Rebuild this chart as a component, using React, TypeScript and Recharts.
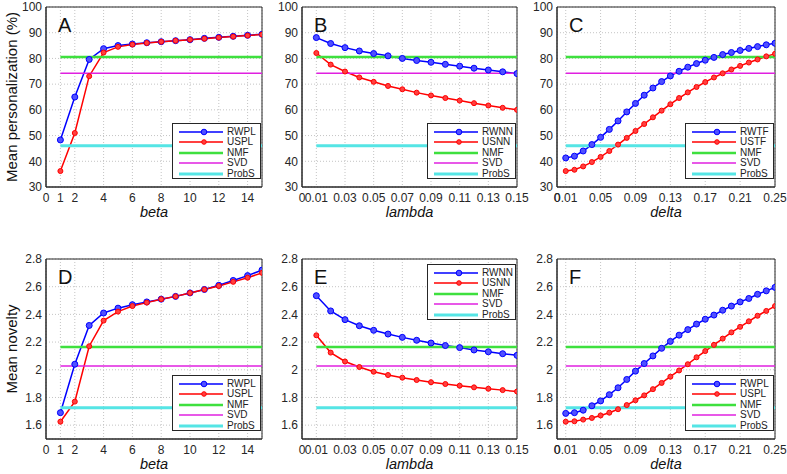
import React from 'react'
import { CartesianGrid, Label, Line, LineChart, ReferenceArea, XAxis, YAxis } from 'recharts'

const FONT = '"Liberation Sans", Arial, Helvetica, sans-serif'

// parameter values (x)
const betaValues = [1, 2, 3, 4, 5, 6, 7, 8, 9, 10, 11, 12, 13, 14, 15]
const lambdaValues = [0.01, 0.02, 0.03, 0.04, 0.05, 0.06, 0.07, 0.08, 0.09, 0.1, 0.11, 0.12, 0.13, 0.14, 0.15]
const deltaValues = [
  0.01, 0.02, 0.03, 0.04, 0.05, 0.06, 0.07, 0.08, 0.09, 0.1, 0.11, 0.12, 0.13,
  0.14, 0.15, 0.16, 0.17, 0.18, 0.19, 0.2, 0.21, 0.22, 0.23, 0.24, 0.25,
]

// tick labels
const betaTicks = [0, 1, 2, 4, 6, 8, 10, 12, 14]
const lambdaTicks = [0, 0.01, 0.03, 0.05, 0.07, 0.09, 0.11, 0.13, 0.15]
const deltaTicks = [0, 0.01, 0.05, 0.09, 0.13, 0.17, 0.21, 0.25]
const personalizationTicks = [30, 40, 50, 60, 70, 80, 90, 100]
const noveltyTicks = [1.6, 1.8, 2, 2.2, 2.4, 2.6, 2.8]

// baselines
const personalizationNMF = 80.6
const personalizationSVD = 74.2
const personalizationProbS = 46.0
const noveltyNMF = 2.165
const noveltySVD = 2.028
const noveltyProbS = 1.726

// A: personalization vs beta
const persRWPL = [48.3, 65.0, 79.6, 83.8, 85.0, 85.6, 86.1, 86.5, 86.9, 87.3, 87.8, 88.2, 88.6, 89.0, 89.4]
const persUSPL = [36.2, 51.0, 73.1, 82.3, 84.5, 85.4, 86.0, 86.5, 86.9, 87.3, 87.7, 88.1, 88.5, 88.9, 89.3]
// B: personalization vs lambda
const persRWNN = [88.1, 85.8, 84.2, 82.9, 81.9, 81.0, 80.0, 79.2, 78.5, 77.7, 77.0, 76.2, 75.5, 74.8, 74.1]
const persUSNN = [82.1, 77.6, 74.9, 72.6, 70.9, 69.3, 68.0, 66.7, 65.6, 64.6, 63.6, 62.6, 61.7, 60.8, 60.0]
// C: personalization vs delta
const persRWTF = [
  41.3, 42.0, 44.0, 46.5, 49.3, 52.4, 55.7, 59.2, 62.5, 65.7, 68.5, 71.0, 73.2,
  75.0, 76.6, 78.0, 79.3, 80.4, 81.5, 82.3, 83.1, 83.9, 84.6, 85.3, 85.9,
]
const persUSTF = [
  36.2, 36.7, 38.0, 39.7, 41.7, 44.0, 46.5, 49.1, 51.8, 54.5, 57.1, 59.7, 62.2,
  64.6, 66.8, 68.9, 70.8, 72.6, 74.2, 75.7, 77.1, 78.4, 79.6, 80.8, 81.8,
]
// D: novelty vs beta
const novRWPL = [1.69, 2.04, 2.32, 2.41, 2.445, 2.47, 2.49, 2.51, 2.53, 2.555, 2.58, 2.61, 2.645, 2.68, 2.72]
const novUSPL = [1.625, 1.77, 2.17, 2.355, 2.42, 2.46, 2.485, 2.51, 2.53, 2.555, 2.58, 2.605, 2.635, 2.665, 2.70]
// E: novelty vs lambda
const novRWNN = [2.535, 2.425, 2.362, 2.318, 2.285, 2.258, 2.234, 2.213, 2.193, 2.175, 2.16, 2.143, 2.13, 2.116, 2.104]
const novUSNN = [2.249, 2.124, 2.06, 2.02, 1.986, 1.962, 1.943, 1.926, 1.91, 1.897, 1.885, 1.873, 1.863, 1.853, 1.843]
// F: novelty vs delta
const novRWPLDelta = [
  1.685, 1.69, 1.708, 1.74, 1.775, 1.82, 1.87, 1.93, 1.99, 2.045, 2.1, 2.155, 2.205,
  2.25, 2.29, 2.33, 2.365, 2.395, 2.43, 2.46, 2.49, 2.515, 2.545, 2.57, 2.595,
]
const novUSPLDelta = [
  1.625, 1.628, 1.64, 1.652, 1.67, 1.69, 1.715, 1.745, 1.78, 1.815, 1.86, 1.905, 1.95,
  1.995, 2.04, 2.09, 2.135, 2.18, 2.225, 2.27, 2.31, 2.35, 2.39, 2.425, 2.46,
]

const BLUE = '#0000ff'
const RED = '#ff0000'
const GREEN = '#3ee03e'
const MAGENTA = '#e020e0'
const CYAN = '#55e5e5'
const AXIS = '#262626'

const buildRows = (xs: number[], a: number[], b: number[], nmf: number, svd: number, probs: number) =>
  xs.map((x, i) => ({ x, a: a[i], b: b[i], nmf, svd, probs }))

const fmt2 = (v: number) => (v === 0 ? '0' : v.toFixed(2))
const fmtInt = (v: number) => String(v)
const fmtNov = (v: number) => String(Number(v.toFixed(1)))

interface PanelProps {
  left: number
  top: number
  width: number
  height: number
  rows: ReturnType<typeof buildRows>
  xDomain: [number, number]
  xTicks: number[]
  xFmt: (v: number) => string
  yDomain: [number, number]
  yTicks: number[]
  yFmt: (v: number) => string
  letter: string
  xLabel: string
  yLabel?: string
  names: [string, string]
  legendTop?: boolean
}

const YW = 46

const LegendBox = ({ names, style }: { names: [string, string]; style: React.CSSProperties }) => {
  const items = [
    { name: names[0], color: BLUE, w: 1.5, marker: 'ring' },
    { name: names[1], color: RED, w: 1.5, marker: 'dot' },
    { name: 'NMF', color: GREEN, w: 2.5, marker: '' },
    { name: 'SVD', color: MAGENTA, w: 1.5, marker: '' },
    { name: 'ProbS', color: CYAN, w: 3, marker: '' },
  ]
  return (
    <div
      style={{
        position: 'absolute',
        width: 89,
        height: 56,
        background: '#fff',
        border: `1px solid ${AXIS}`,
        boxSizing: 'border-box',
        ...style,
      }}
    >
      {items.map((it, i) => (
        <div key={it.name} style={{ position: 'absolute', left: 0, top: 3 + i * 10.4, height: 10, width: 88 }}>
          <svg width={50} height={10} style={{ position: 'absolute', left: 4, top: 0 }}>
            <line x1={2} y1={5} x2={46} y2={5} stroke={it.color} strokeWidth={it.w} />
            {it.marker === 'ring' && <circle cx={27} cy={5} r={2.8} fill="#5050ff" stroke={BLUE} strokeWidth={1} />}
            {it.marker === 'dot' && <circle cx={27} cy={5} r={2.3} fill="#ff4040" stroke={RED} strokeWidth={1} />}
          </svg>
          <span
            style={{
              position: 'absolute',
              left: 54,
              top: 0,
              fontSize: 10,
              lineHeight: '10px',
              color: '#222',
              fontFamily: FONT,
            }}
          >
            {it.name}
          </span>
        </div>
      ))}
    </div>
  )
}

const Panel = (p: PanelProps) => {
  const legendStyle: React.CSSProperties = p.legendTop
    ? { left: p.left + p.width - 90, top: p.top + 5 }
    : { left: p.left + p.width - 90, top: p.top + p.height - 64 }
  return (
    <>
      <div style={{ position: 'absolute', left: p.left - YW, top: p.top - 7 }}>
        <LineChart
          width={YW + p.width + 12}
          height={7 + p.height + 45}
          data={p.rows}
          margin={{ top: 7, right: 12, bottom: 25, left: 0 }}
        >
          <CartesianGrid stroke="#c4c4c4" strokeDasharray="1 2" />
          <XAxis
            dataKey="x"
            type="number"
            domain={p.xDomain}
            ticks={p.xTicks}
            interval={0}
            tickFormatter={p.xFmt}
            tickLine={false}
            tickSize={4}
            tickMargin={2}
            height={20}
            axisLine={{ stroke: AXIS }}
            tick={{ fill: AXIS, fontSize: 12, fontFamily: FONT }}
            allowDataOverflow
          >
            <Label
              value={p.xLabel}
              position="bottom"
              offset={0}
              style={{ fontStyle: 'italic', fontSize: 14.5, fill: '#111', fontFamily: FONT }}
            />
          </XAxis>
          <YAxis
            type="number"
            domain={p.yDomain}
            ticks={p.yTicks}
            interval={0}
            tickFormatter={p.yFmt}
            tickLine={false}
            tickSize={2}
            tickMargin={2}
            width={YW}
            axisLine={{ stroke: AXIS }}
            tick={{ fill: AXIS, fontSize: 12, fontFamily: FONT }}
            allowDataOverflow
          >
            {p.yLabel && (
              <Label
                value={p.yLabel}
                angle={-90}
                position="insideLeft"
                offset={12}
                style={{ textAnchor: 'middle', fontSize: 15, fill: '#111', fontFamily: FONT }}
              />
            )}
          </YAxis>
          <ReferenceArea
            x1={p.xDomain[0]}
            x2={p.xDomain[1]}
            y1={p.yDomain[0]}
            y2={p.yDomain[1]}
            fill="none"
            fillOpacity={0}
            stroke={AXIS}
            strokeWidth={1}
          />
          <Line
            dataKey="a"
            stroke={BLUE}
            strokeWidth={1.5}
            dot={{ r: 3, fill: '#5050ff', stroke: BLUE, strokeWidth: 1 }}
            isAnimationActive={false}
          />
          <Line
            dataKey="b"
            stroke={RED}
            strokeWidth={1.5}
            dot={{ r: 2.5, fill: '#ff4040', stroke: RED, strokeWidth: 1 }}
            isAnimationActive={false}
          />
          <Line dataKey="nmf" stroke={GREEN} strokeWidth={2.5} dot={false} isAnimationActive={false} />
          <Line dataKey="svd" stroke={MAGENTA} strokeWidth={1.5} dot={false} isAnimationActive={false} />
          <Line dataKey="probs" stroke={CYAN} strokeWidth={3} dot={false} isAnimationActive={false} />
        </LineChart>
      </div>
      <div
        style={{
          position: 'absolute',
          left: p.left + 12,
          top: p.top + 6,
          fontSize: 20,
          lineHeight: '24px',
          color: '#111',
          fontFamily: FONT,
        }}
      >
        {p.letter}
      </div>
      <LegendBox names={p.names} style={legendStyle} />
    </>
  )
}

const App = () => {
  const cols = [
    { left: 46, width: 216 },
    { left: 302, width: 215 },
    { left: 557, width: 218 },
  ]
  const rowTops = [7, 259]
  const h = 180
  const persDomain: [number, number] = [30, 100]
  const novDomain: [number, number] = [1.5, 2.8]

  return (
    <div
      style={{
        position: 'absolute',
        left: 0,
        top: 0,
        width: 787,
        height: 474,
        background: '#fff',
        overflow: 'hidden',
        fontFamily: FONT,
      }}
    >
      <Panel
        left={cols[0].left}
        top={rowTops[0]}
        width={cols[0].width}
        height={h}
        rows={buildRows(betaValues, persRWPL, persUSPL, personalizationNMF, personalizationSVD, personalizationProbS)}
        xDomain={[0, 15]}
        xTicks={betaTicks}
        xFmt={fmtInt}
        yDomain={persDomain}
        yTicks={personalizationTicks}
        yFmt={fmtInt}
        letter="A"
        xLabel="beta"
        yLabel="Mean personalization (%)"
        names={['RWPL', 'USPL']}
      />
      <Panel
        left={cols[1].left}
        top={rowTops[0]}
        width={cols[1].width}
        height={h}
        rows={buildRows(lambdaValues, persRWNN, persUSNN, personalizationNMF, personalizationSVD, personalizationProbS)}
        xDomain={[0, 0.15]}
        xTicks={lambdaTicks}
        xFmt={fmt2}
        yDomain={persDomain}
        yTicks={personalizationTicks}
        yFmt={fmtInt}
        letter="B"
        xLabel="lambda"
        names={['RWNN', 'USNN']}
      />
      <Panel
        left={cols[2].left}
        top={rowTops[0]}
        width={cols[2].width}
        height={h}
        rows={buildRows(deltaValues, persRWTF, persUSTF, personalizationNMF, personalizationSVD, personalizationProbS)}
        xDomain={[0, 0.25]}
        xTicks={deltaTicks}
        xFmt={fmt2}
        yDomain={persDomain}
        yTicks={personalizationTicks}
        yFmt={fmtInt}
        letter="C"
        xLabel="delta"
        names={['RWTF', 'USTF']}
      />
      <Panel
        left={cols[0].left}
        top={rowTops[1]}
        width={cols[0].width}
        height={h}
        rows={buildRows(betaValues, novRWPL, novUSPL, noveltyNMF, noveltySVD, noveltyProbS)}
        xDomain={[0, 15]}
        xTicks={betaTicks}
        xFmt={fmtInt}
        yDomain={novDomain}
        yTicks={noveltyTicks}
        yFmt={fmtNov}
        letter="D"
        xLabel="beta"
        yLabel="Mean novelty"
        names={['RWPL', 'USPL']}
      />
      <Panel
        left={cols[1].left}
        top={rowTops[1]}
        width={cols[1].width}
        height={h}
        rows={buildRows(lambdaValues, novRWNN, novUSNN, noveltyNMF, noveltySVD, noveltyProbS)}
        xDomain={[0, 0.15]}
        xTicks={lambdaTicks}
        xFmt={fmt2}
        yDomain={novDomain}
        yTicks={noveltyTicks}
        yFmt={fmtNov}
        letter="E"
        xLabel="lambda"
        names={['RWNN', 'USNN']}
        legendTop
      />
      <Panel
        left={cols[2].left}
        top={rowTops[1]}
        width={cols[2].width}
        height={h}
        rows={buildRows(deltaValues, novRWPLDelta, novUSPLDelta, noveltyNMF, noveltySVD, noveltyProbS)}
        xDomain={[0, 0.25]}
        xTicks={deltaTicks}
        xFmt={fmt2}
        yDomain={novDomain}
        yTicks={noveltyTicks}
        yFmt={fmtNov}
        letter="F"
        xLabel="delta"
        names={['RWPL', 'USPL']}
      />
    </div>
  )
}

export default App
